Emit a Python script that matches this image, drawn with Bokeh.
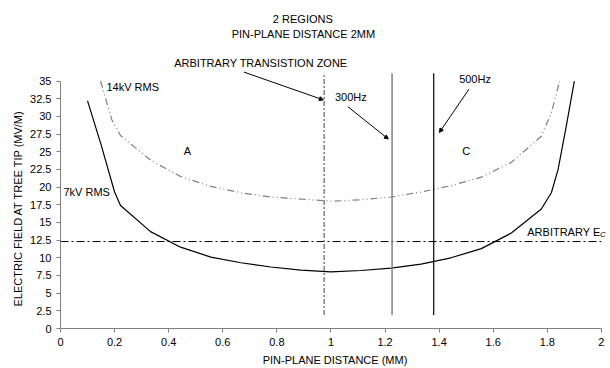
from bokeh.plotting import figure
from bokeh.models import Label, Arrow, NormalHead, FixedTicker, Range1d, Title
from bokeh.embed import file_html
from bokeh.resources import INLINE

# ---- data ----
x_7kv = [0.1, 0.15, 0.2, 0.222, 0.333, 0.444, 0.556, 0.667, 0.778, 0.889, 1.0,
         1.111, 1.222, 1.333, 1.444, 1.556, 1.667, 1.778, 1.815, 1.84, 1.87, 1.9]
e_7kv = [32.2, 26.0, 19.3, 17.4, 13.7, 11.5, 10.1, 9.3, 8.7, 8.25, 8.0,
         8.2, 8.55, 9.1, 10.0, 11.3, 13.5, 16.9, 19.2, 22.5, 28.6, 35.0]

x_14kv = [0.148, 0.19, 0.222, 0.333, 0.444, 0.556, 0.667, 0.778, 0.889, 1.0,
          1.111, 1.222, 1.333, 1.444, 1.556, 1.667, 1.778, 1.815, 1.846]
e_14kv = [35.0, 29.5, 27.3, 23.8, 21.5, 20.1, 19.2, 18.6, 18.3, 18.0,
          18.2, 18.6, 19.3, 20.2, 21.4, 23.5, 27.2, 30.5, 35.0]

ec_level = [12.3]
ec_x = [0.0, 2.0]
zone_x = [0.975]
f300_x = [1.226]
f500_x = [1.38]
vline_y = [1.9, 36.1]

x_ticks = [0, 0.2, 0.4, 0.6, 0.8, 1.0, 1.2, 1.4, 1.6, 1.8, 2.0]
x_tick_labels = ["0", "0.2", "0.4", "0.6", "0.8", "1", "1.2", "1.4", "1.6", "1.8", "2"]
y_ticks = [0, 2.5, 5, 7.5, 10, 12.5, 15, 17.5, 20, 22.5, 25, 27.5, 30, 32.5, 35]
y_tick_labels = ["0", "2.5", "5", "7.5", "10", "12.5", "15", "17.5", "20", "22.5",
                 "25", "27.5", "30", "32.5", "35"]

FONT = "Liberation Sans"
FS = "11px"
GRAY = "#808080"

# frame reaches the top of the page so the upper texts can live in data space
p = figure(width=610, height=368, output_backend="svg", toolbar_location=None,
           x_range=Range1d(0, 2.03), y_range=Range1d(0, 46.39),
           min_border_left=60, min_border_right=1, min_border_top=0, min_border_bottom=38)
p.outline_line_color = None
p.grid.visible = False
p.background_fill_color = "white"
p.border_fill_color = "white"

# axes
p.xaxis.ticker = FixedTicker(ticks=x_ticks)
p.yaxis.ticker = FixedTicker(ticks=y_ticks)
p.xaxis.major_label_overrides = {t: l for t, l in zip(x_ticks, x_tick_labels)}
p.yaxis.major_label_overrides = {t: l for t, l in zip(y_ticks, y_tick_labels)}
p.yaxis.bounds = (0, 35)
p.xaxis.bounds = (0, 2)
for ax in (p.xaxis, p.yaxis):
    ax.axis_line_color = GRAY
    ax.major_tick_line_color = GRAY
    ax.major_tick_in = 0
    ax.major_tick_out = 4
    ax.minor_tick_line_color = None
    ax.major_label_text_font = FONT
    ax.major_label_text_font_size = FS
    ax.major_label_text_color = "black"
    ax.axis_label_text_font = FONT
    ax.axis_label_text_font_size = FS
    ax.axis_label_text_font_style = "normal"
    ax.axis_label_text_color = "black"
    ax.major_label_standoff = 5
    ax.axis_label_standoff = 5
p.xaxis.axis_label = "PIN-PLANE DISTANCE (MM)"
p.add_layout(Title(text="ELECTRIC FIELD AT TREE TIP (MV/M)", align="left", offset=22,
                   standoff=7, text_font=FONT, text_font_size=FS,
                   text_font_style="normal", text_color="black"), "left")

# curves
p.line(x_7kv, e_7kv, line_color="black", line_width=1.2)
p.line(x_14kv, e_14kv, line_color=GRAY, line_width=1.2, line_dash="7 3 1 3 1 3")

# arbitrary Ec line
p.line(ec_x, ec_level * 2, line_color="black", line_width=1, line_dash="8 3 2 3")

# vertical lines
p.line(zone_x * 2, vline_y, line_color=GRAY, line_width=1.5, line_dash="5 2 2 2")
p.line(f300_x * 2, vline_y, line_color=GRAY, line_width=1.5)
p.line(f500_x * 2, vline_y, line_color="black", line_width=1.2)

def lab(text, x, y, align="center", size=FS, style="normal"):
    p.add_layout(Label(x=x, y=y, text=text, text_font=FONT, text_font_size=size,
                       text_align=align, text_baseline="middle", text_color="black",
                       text_font_style=style))

lab("2 REGIONS", 0.896, 43.81)
lab("PIN-PLANE DISTANCE 2MM", 0.898, 41.70)
lab("ARBITRARY TRANSISTION ZONE", 0.741, 37.49)
lab("300Hz", 1.015, 32.75, align="left")
lab("500Hz", 1.474, 35.28, align="left")
lab("14kV RMS", 0.170, 34.2, align="left")
lab("7kV RMS", 0.011, 19.3, align="left")
lab("A", 0.469, 25.06)
lab("C", 1.5, 25.06)
lab("ARBITRARY E", 1.726, 13.67, align="left")
lab("C", 1.995, 13.3, align="left", size="8px", style="italic")

# arrows
def arr(x0, y0, x1, y1):
    p.add_layout(Arrow(x_start=x0, y_start=y0, x_end=x1, y_end=y1,
                       line_color="black", line_width=1,
                       end=NormalHead(size=4, fill_color="black", line_color="black")))

arr(0.678, 36.27, 0.972, 32.33)
arr(1.062, 31.39, 1.212, 26.8)
arr(1.511, 33.88, 1.401, 27.73)

open("out.html", "w").write(file_html(p, INLINE))
